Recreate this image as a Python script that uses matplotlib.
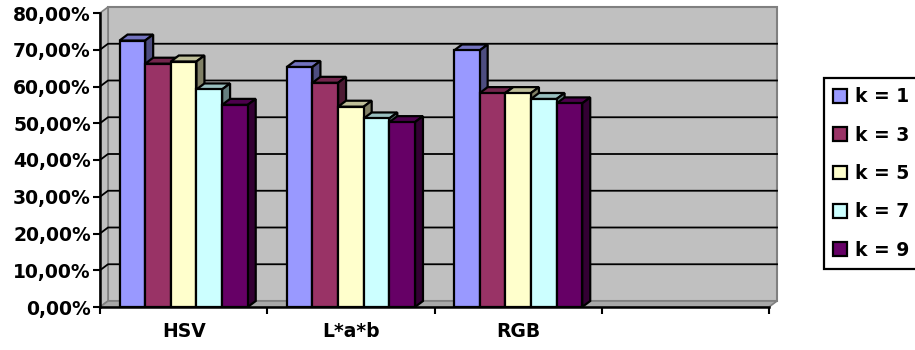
import matplotlib
matplotlib.use('Agg')
import matplotlib.pyplot as plt
from matplotlib.patches import Polygon, Patch
from matplotlib.ticker import FuncFormatter, FixedLocator

plt.rcParams['font.family'] = 'DejaVu Sans'
plt.rcParams['font.weight'] = 'bold'
plt.rcParams['font.size'] = 13

categories = ['HSV', 'L*a*b', 'RGB', '']
k_labels = ['k = 1', 'k = 3', 'k = 5', 'k = 7', 'k = 9']
# accuracy per colour space (HSV, L*a*b, RGB)
k1 = [0.725, 0.653, 0.698]
k3 = [0.662, 0.610, 0.582]
k5 = [0.668, 0.545, 0.582]
k7 = [0.592, 0.513, 0.566]
k9 = [0.550, 0.503, 0.554]
series = [k1, k3, k5, k7, k9]
colors = ['#9999FF', '#993366', '#FFFFCC', '#CCFFFF', '#660066']


def shade(c, f):
    r, g, b = matplotlib.colors.to_rgb(c)
    return (r * f, g * f, b * f)


fig = plt.figure(figsize=(9.15, 3.5), dpi=100)
ax = fig.add_axes([100 / 915, 43 / 350, 669 / 915, 294 / 350])
ax.set_xlim(-0.5, len(categories) - 0.5)
ax.set_ylim(0, 0.8)
ax.patch.set_visible(False)
x0, x1 = ax.get_xlim()
ytop = ax.get_ylim()[1]

# depth of the 3d look, in data units
DX = 8 / 669 * (x1 - x0)
DY = 6 / 294 * ytop

# back wall, left wall, floor
ax.add_patch(Polygon([(x0 + DX, DY), (x1 + DX, DY), (x1 + DX, ytop + DY), (x0 + DX, ytop + DY)],
                     fc='#C0C0C0', ec='#808080', lw=1.5, clip_on=False, zorder=0))
ax.add_patch(Polygon([(x0, 0), (x0 + DX, DY), (x0 + DX, ytop + DY), (x0, ytop)],
                     fc='#C0C0C0', ec='#808080', lw=1.2, clip_on=False, zorder=0))
ax.add_patch(Polygon([(x0, 0), (x1, 0), (x1 + DX, DY), (x0 + DX, DY)],
                     fc='#A8A8A8', ec='#808080', lw=1.2, clip_on=False, zorder=0.5))
for yv in [0.1, 0.2, 0.3, 0.4, 0.5, 0.6, 0.7]:
    ax.plot([x0, x0 + DX, x1 + DX], [yv, yv + DY, yv + DY], color='black', lw=1.3,
            clip_on=False, zorder=1)

w = 25.6 / 167
pos = list(range(len(k1)))
for j, vals in enumerate(series):
    xs = [p + (j - 2) * w for p in pos]
    for xc, v in zip(xs, vals):
        l, r = xc - w / 2, xc + w / 2
        ax.add_patch(Polygon([(l, v), (l + DX, v + DY), (r + DX, v + DY), (r, v)],
                             fc=shade(colors[j], 0.75), ec='black', lw=1.6, zorder=2 + 2 * j,
                             clip_on=False))
        ax.add_patch(Polygon([(r, 0), (r, v), (r + DX, v + DY), (r + DX, DY)],
                             fc=shade(colors[j], 0.5), ec='black', lw=1.6, zorder=2 + 2 * j,
                             clip_on=False))
    ax.bar(xs, vals, width=w, color=colors[j], edgecolor='black', lw=1.6, zorder=3 + 2 * j)

for s in ['top', 'right']:
    ax.spines[s].set_visible(False)
for s in ['left', 'bottom']:
    ax.spines[s].set_linewidth(1.8)
    ax.spines[s].set_zorder(20)

ax.set_yticks([i / 10 for i in range(9)])
ax.yaxis.set_major_formatter(FuncFormatter(lambda v, p: f'{v * 100:.2f}%'.replace('.', ',')))
ax.tick_params(axis='y', length=5, width=1.5, pad=1.5, labelsize=13.5)

ax.xaxis.set_major_locator(FixedLocator([i - 0.5 for i in range(len(categories) + 1)]))
ax.xaxis.set_minor_locator(FixedLocator(list(range(len(categories)))))
ax.set_xticklabels([], minor=False)
ax.set_xticklabels(categories, minor=True)
ax.tick_params(axis='x', which='major', length=5, width=1.5)
ax.tick_params(axis='x', which='minor', length=0, pad=11, labelsize=13.5)

handles = [Patch(facecolor=c, edgecolor='black', lw=1.6) for c in colors]
leg = fig.legend(handles, k_labels, loc='upper left', bbox_to_anchor=(824 / 915, 1 - 78 / 350),
                 frameon=True, fancybox=False, edgecolor='black', framealpha=1,
                 borderpad=0.5, labelspacing=1.03, handlelength=0.75, handleheight=0.75,
                 handletextpad=0.4, borderaxespad=0, fontsize=13.5)
leg.get_frame().set_linewidth(1.6)

fig.savefig('out.png', dpi=100)
